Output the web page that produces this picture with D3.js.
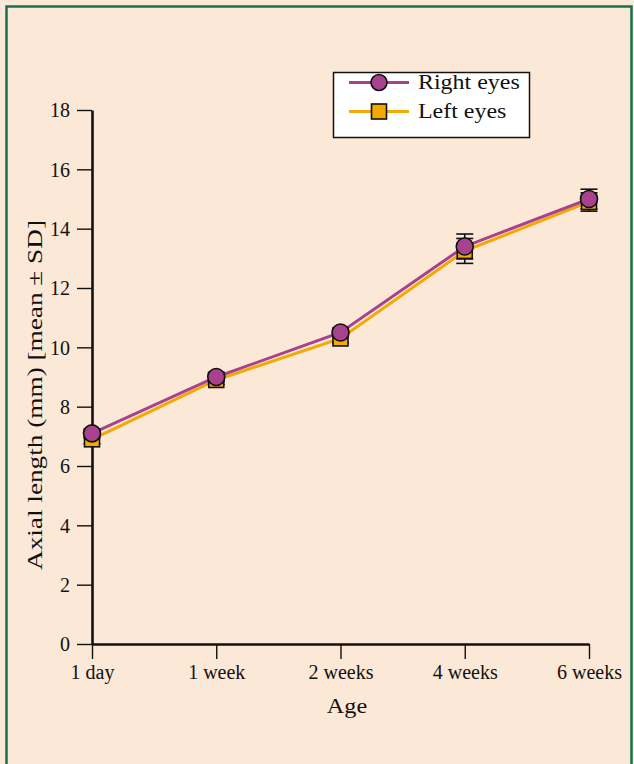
<!DOCTYPE html>
<html>
<head>
<meta charset="utf-8">
<script src="https://cdn.jsdelivr.net/npm/d3@7"></script>
<style>
  html, body { margin: 0; padding: 0; background: #fce8d6; }
  svg { display: block; }
  text { font-family: "Liberation Serif", "Times New Roman", serif; fill: #111; }
</style>
</head>
<body>
<svg id="chart" width="634" height="764"></svg>
<script>
// Axial length by age, mean ± SD
const ages = ["1 day", "1 week", "2 weeks", "4 weeks", "6 weeks"];
const rightMean = [7.1, 9.0, 10.5, 13.4, 15.0];
const rightSD   = [0.15, 0.15, 0.15, 0.42, 0.33];
const leftMean  = [6.9, 8.9, 10.3, 13.25, 14.9];
const leftSD    = [0.15, 0.15, 0.15, 0.42, 0.31];
const yTicks = [0, 2, 4, 6, 8, 10, 12, 14, 16, 18];

const series = [
  { name: "Left eyes",  mean: leftMean,  sd: leftSD,  color: "#f2a900", shape: "square" },
  { name: "Right eyes", mean: rightMean, sd: rightSD, color: "#a8428e", shape: "circle" }
];

const svg = d3.select("#chart");

// widen a text element horizontally by a factor (the face used is a wide serif)
function widen(sel, k) {
  sel.each(function () {
    const w = this.getComputedTextLength();
    d3.select(this).attr("textLength", w * k).attr("lengthAdjust", "spacingAndGlyphs");
  });
}

// panel background and frame
svg.append("rect").attr("x", 0).attr("y", 0).attr("width", 634).attr("height", 764).attr("fill", "#fce8d6");
svg.append("rect").attr("x", 6.5).attr("y", 6.5).attr("width", 625).attr("height", 800)
  .attr("fill", "none").attr("stroke", "#137150").attr("stroke-width", 2.5);

const x = d3.scalePoint().domain(ages).range([92, 589]);
const y = d3.scaleLinear().domain([0, 18]).range([644, 110]);

// axes
const yAxis = svg.append("g").attr("transform", "translate(92,0)")
  .call(d3.axisLeft(y).tickValues(yTicks).tickSize(15).tickPadding(7).tickSizeOuter(0));
const xAxis = svg.append("g").attr("transform", "translate(0,644)")
  .call(d3.axisBottom(x).tickSize(15).tickPadding(6).tickSizeOuter(0));

[yAxis, xAxis].forEach(g => {
  g.select(".domain").attr("stroke", "#111").attr("stroke-width", 2.6);
  g.selectAll(".tick line").attr("stroke", "#111").attr("stroke-width", 1.4);
  g.selectAll(".tick text").attr("font-size", 20).attr("font-family", "Liberation Serif, serif").attr("fill", "#111");
});
yAxis.selectAll(".tick text").attr("dy", "0.34em");
xAxis.selectAll(".tick text").attr("dy", "0.72em");

// axis titles
svg.append("text").attr("x", 347).attr("y", 713).attr("text-anchor", "middle")
  .attr("font-size", 22).text("Age").call(widen, 1.1);
svg.append("text")
  .attr("transform", "translate(42,395) rotate(-90)")
  .attr("text-anchor", "middle")
  .attr("font-size", 22)
  .attr("textLength", 350).attr("lengthAdjust", "spacingAndGlyphs")
  .text("Axial length (mm) [mean ± SD]");

// lines
const line = d3.line().x((d, i) => x(ages[i])).y(d => y(d));
series.forEach(s => {
  svg.append("path").datum(s.mean).attr("d", line)
    .attr("fill", "none").attr("stroke", s.color).attr("stroke-width", 3);
});

// error bars
const cap = 8.5;
series.forEach(s => {
  const g = svg.append("g").attr("stroke", "#111").attr("stroke-width", 1.6);
  s.mean.forEach((m, i) => {
    const cx = x(ages[i]);
    g.append("line").attr("x1", cx).attr("x2", cx).attr("y1", y(m - s.sd[i])).attr("y2", y(m + s.sd[i]));
    [m - s.sd[i], m + s.sd[i]].forEach(v => {
      g.append("line").attr("x1", cx - cap).attr("x2", cx + cap).attr("y1", y(v)).attr("y2", y(v));
    });
  });
});

// markers
function drawMarker(g, shape, cx, cy, color, r) {
  if (shape === "circle") {
    g.append("circle").attr("cx", cx).attr("cy", cy).attr("r", r)
      .attr("fill", color).attr("stroke", "#111").attr("stroke-width", 1.6);
  } else {
    g.append("rect").attr("x", cx - r).attr("y", cy - r).attr("width", 2 * r).attr("height", 2 * r)
      .attr("fill", color).attr("stroke", "#111").attr("stroke-width", 1.6);
  }
}
series.forEach(s => {
  const g = svg.append("g");
  s.mean.forEach((m, i) => {
    drawMarker(g, s.shape, x(ages[i]), y(m), s.color, s.shape === "circle" ? 8.5 : 7.5);
  });
});

// legend
const lg = svg.append("g");
lg.append("rect").attr("x", 333.5).attr("y", 72.5).attr("width", 196).attr("height", 65)
  .attr("fill", "#fff").attr("stroke", "#111").attr("stroke-width", 1.5);
const legendRows = [series[1], series[0]];
legendRows.forEach((s, i) => {
  const cy = 82.5 + i * 29;
  lg.append("line").attr("x1", 349).attr("x2", 409).attr("y1", cy).attr("y2", cy)
    .attr("stroke", s.color).attr("stroke-width", 3);
  drawMarker(lg, s.shape, 379, cy, s.color, s.shape === "circle" ? 8 : 7.5);
  lg.append("text").attr("x", 418).attr("y", cy).attr("dy", "0.33em")
    .attr("font-size", 21).text(s.name).call(widen, 1.14);
});
</script>
</body>
</html>
